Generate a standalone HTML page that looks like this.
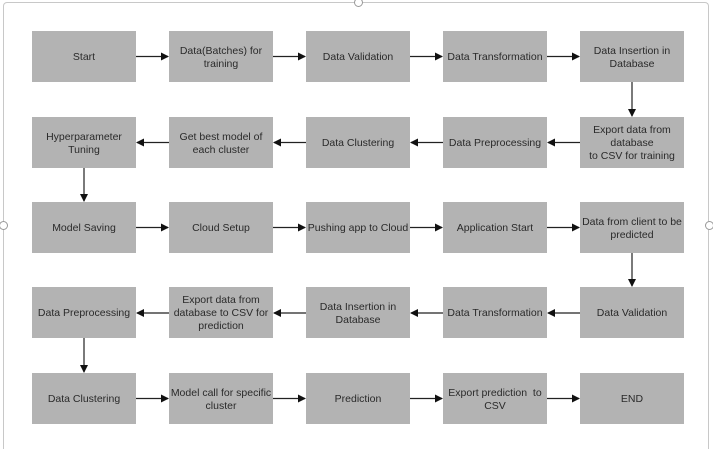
<!DOCTYPE html>
<html style="overflow:hidden;width:713px;height:450px"><head><style>
body{margin:0;width:713px;height:450px;background:#fff;position:relative;overflow:hidden;font-family:"Liberation Sans",sans-serif}
.frame{position:absolute;left:3px;top:2px;width:706px;height:447px;border:1px solid #c8c8c8;border-bottom:none;border-radius:4px 4px 0 0;box-sizing:border-box}
.h{position:absolute;width:7px;height:7px;border:1px solid #999;border-radius:50%;background:#fff}
.b{position:absolute;width:104px;height:51px;padding-top:2px;box-sizing:border-box;background:#b3b3b3;display:flex;align-items:center;justify-content:center;text-align:center;font-size:10.5px;line-height:13px;color:#2a2a2a}
svg{position:absolute;left:0;top:0}
</style></head><body>
<div class="frame"></div>
<div class="h" style="left:354px;top:-2px"></div>
<div class="h" style="left:-1px;top:221px"></div>
<div class="h" style="left:705px;top:221px"></div>

<div class="b" style="left:32px;top:31px">Start</div>
<div class="b" style="left:169px;top:31px">Data(Batches) for<br>training</div>
<div class="b" style="left:306px;top:31px">Data Validation</div>
<div class="b" style="left:443px;top:31px">Data Transformation</div>
<div class="b" style="left:580px;top:31px">Data Insertion in<br>Database</div>

<div class="b" style="left:32px;top:117px">Hyperparameter<br>Tuning</div>
<div class="b" style="left:169px;top:117px">Get best model of<br>each cluster</div>
<div class="b" style="left:306px;top:117px">Data Clustering</div>
<div class="b" style="left:443px;top:117px">Data Preprocessing</div>
<div class="b" style="left:580px;top:117px">Export data from<br>database<br>to CSV for training</div>

<div class="b" style="left:32px;top:202px">Model Saving</div>
<div class="b" style="left:169px;top:202px">Cloud Setup</div>
<div class="b" style="left:306px;top:202px">Pushing app to Cloud</div>
<div class="b" style="left:443px;top:202px">Application Start</div>
<div class="b" style="left:580px;top:202px">Data from client to be<br>predicted</div>

<div class="b" style="left:32px;top:287px">Data Preprocessing</div>
<div class="b" style="left:169px;top:287px">Export data from<br>database to CSV for<br>prediction</div>
<div class="b" style="left:306px;top:287px">Data Insertion in<br>Database</div>
<div class="b" style="left:443px;top:287px">Data Transformation</div>
<div class="b" style="left:580px;top:287px">Data Validation</div>

<div class="b" style="left:32px;top:373px">Data Clustering</div>
<div class="b" style="left:169px;top:373px">Model call for specific<br>cluster</div>
<div class="b" style="left:306px;top:373px">Prediction</div>
<div class="b" style="left:443px;top:373px">Export prediction &nbsp;to<br>CSV</div>
<div class="b" style="left:580px;top:373px">END</div>

<svg width="713" height="450">
<defs><marker id="a" markerWidth="8" markerHeight="8" refX="7" refY="4" orient="auto" markerUnits="userSpaceOnUse"><path d="M0,0 L8,4 L0,8 Z" fill="#111"/></marker></defs>
<g stroke="#222" stroke-width="1.2" marker-end="url(#a)">
<line x1="136" y1="56.5" x2="168" y2="56.5"/>
<line x1="273" y1="56.5" x2="305" y2="56.5"/>
<line x1="410" y1="56.5" x2="442" y2="56.5"/>
<line x1="547" y1="56.5" x2="579" y2="56.5"/>
<line x1="632" y1="82" x2="632" y2="116"/>
<line x1="580" y1="142.5" x2="548" y2="142.5"/>
<line x1="443" y1="142.5" x2="411" y2="142.5"/>
<line x1="306" y1="142.5" x2="274" y2="142.5"/>
<line x1="169" y1="142.5" x2="137" y2="142.5"/>
<line x1="84" y1="168" x2="84" y2="201"/>
<line x1="136" y1="227.5" x2="168" y2="227.5"/>
<line x1="273" y1="227.5" x2="305" y2="227.5"/>
<line x1="410" y1="227.5" x2="442" y2="227.5"/>
<line x1="547" y1="227.5" x2="579" y2="227.5"/>
<line x1="632" y1="253" x2="632" y2="286"/>
<line x1="580" y1="313" x2="548" y2="313"/>
<line x1="443" y1="313" x2="411" y2="313"/>
<line x1="306" y1="313" x2="274" y2="313"/>
<line x1="169" y1="313" x2="137" y2="313"/>
<line x1="84" y1="338" x2="84" y2="372"/>
<line x1="136" y1="398.5" x2="168" y2="398.5"/>
<line x1="273" y1="398.5" x2="305" y2="398.5"/>
<line x1="410" y1="398.5" x2="442" y2="398.5"/>
<line x1="547" y1="398.5" x2="579" y2="398.5"/>
</g>
</svg>
</body></html>
